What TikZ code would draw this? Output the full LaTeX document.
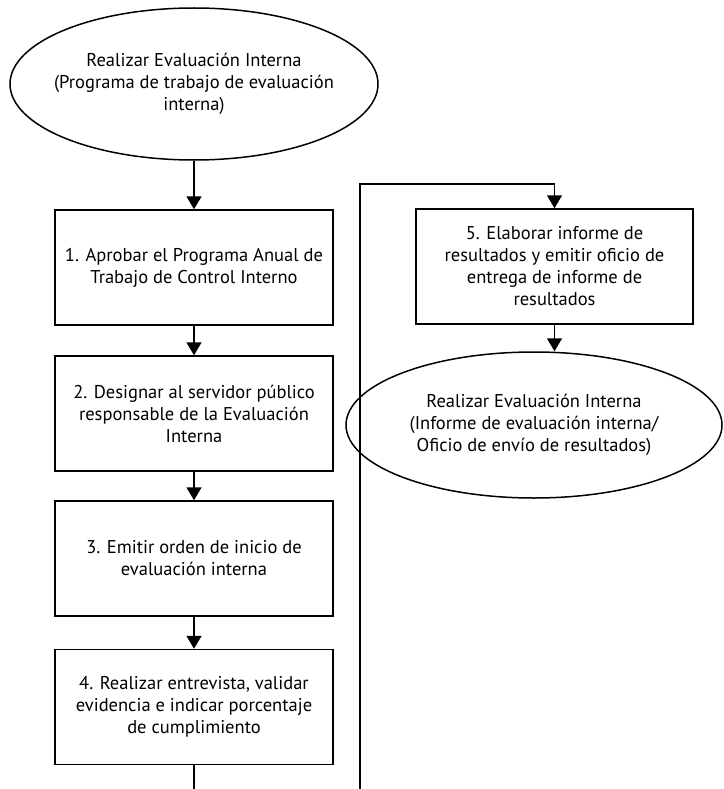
\documentclass[tikz,border=0pt]{standalone}
\usepackage{fontspec}
\setmainfont{PT Sans}
\usetikzlibrary{shapes.geometric,arrows.meta}
\begin{document}
\begin{tikzpicture}[x=1pt,y=-1pt,
  paso/.style={draw, line width=1.5pt, minimum width=278pt, minimum height=115pt,
    align=center, font=\fontsize{18.5}{22}\selectfont},
  evento/.style={draw, ellipse, line width=1.5pt, inner xsep=-25pt, inner ysep=0pt,
    align=center, font=\fontsize{18.5}{22}\selectfont},
  flecha/.style={-{Triangle[width=15pt,length=13pt]}, line width=1.5pt}]
\useasboundingbox[fill=white] (0,0) rectangle (723,789);
\node[evento, minimum width=368pt, minimum height=152pt] (inicio) at (194,84)
  {Realizar Evaluación Interna\\(Programa de trabajo de evaluación\\interna)};
\node[paso] (p1) at (194,267.5) {1. Aprobar el Programa Anual de\\Trabajo de Control Interno};
\node[paso] (p2) at (194,413.5) {2. Designar al servidor público\\responsable de la Evaluación\\Interna};
\node[paso] (p3) at (194,558.5) {3. Emitir orden de inicio de\\evaluación interna};
\node[paso] (p4) at (194,707) {4. Realizar entrevista, validar\\evidencia e indicar porcentaje\\de cumplimiento};
\node[paso, minimum width=277pt] (p5) at (554.5,266.5) {5. Elaborar informe de\\resultados y emitir oficio de\\entrega de informe de\\resultados};
\node[evento, minimum width=376pt, minimum height=146pt] (fin) at (534,425)
  {Realizar Evaluación Interna\\(Informe de evaluación interna/\\Oficio de envío de resultados)};
% conectores
\coordinate (abajo) at (194,800);
\coordinate (retorno) at (360,184);
\draw[flecha] (inicio.south) -- (p1.north);
\draw[flecha] (p1) -- (p2);
\draw[flecha] (p2) -- (p3);
\draw[flecha] (p3) -- (p4);
\draw[flecha] (p4.south) -- (abajo) -| (retorno) -| (p5.north);
\draw[flecha] (p5.south) -- (p5.south |- fin.north);
\end{tikzpicture}
\end{document}
